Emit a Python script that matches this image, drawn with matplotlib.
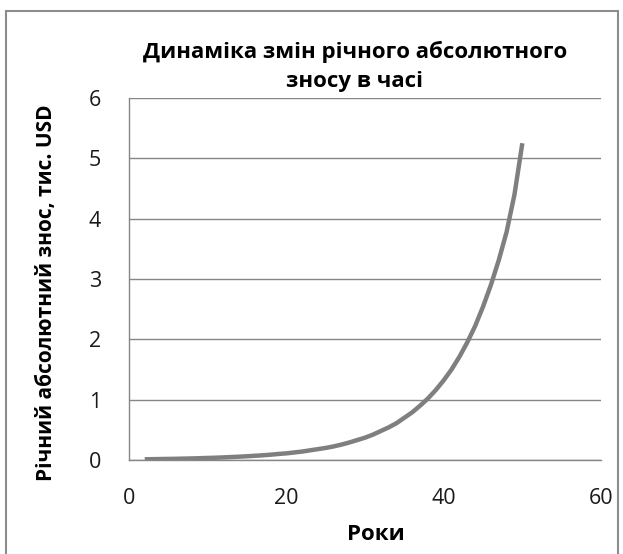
import matplotlib
matplotlib.use("Agg")
import matplotlib.pyplot as plt
from matplotlib.patches import Rectangle

# data
years = list(range(2, 51))
wear = [0.012, 0.014, 0.016, 0.018, 0.020, 0.023, 0.026, 0.030, 0.034,
        0.038, 0.043, 0.049, 0.055, 0.062, 0.070, 0.078, 0.088, 0.100,
        0.110, 0.125, 0.140, 0.160, 0.180, 0.200, 0.225, 0.255, 0.290,
        0.330, 0.370, 0.420, 0.480, 0.540, 0.610, 0.700, 0.790, 0.900,
        1.020, 1.160, 1.320, 1.500, 1.710, 1.950, 2.220, 2.540, 2.900,
        3.310, 3.780, 4.400, 5.250]
x_ticks = [0, 20, 40, 60]
y_ticks = [0, 1, 2, 3, 4, 5, 6]

title = "Динаміка змін річного абсолютного\nзносу в часі"
x_label = "Роки"
y_label = "Річний абсолютний знос, тис. USD"

W, H = 623, 554
fig = plt.figure(figsize=(W / 100, H / 100), dpi=100)
fig.patch.set_facecolor("white")

# outer chart frame
fig.add_artist(Rectangle((6 / W, 1 - 560 / H), (618 - 6) / W, (560 - 11) / H,
                         transform=fig.transFigure, fill=False,
                         edgecolor="#8c8c8c", linewidth=1.5))

ax = fig.add_axes([129 / W, 1 - 460 / H, (601 - 129) / W, (460 - 98) / H])
ax.plot(years, wear, color="#7f7f7f", linewidth=3.2, solid_capstyle="butt")

ax.set_xlim(0, 60)
ax.set_ylim(0, 6)
ax.set_xticks(x_ticks)
ax.set_yticks(y_ticks)
ax.grid(axis="y", color="#868686", linewidth=1)
ax.set_axisbelow(True)
for s in ["top", "right"]:
    ax.spines[s].set_visible(False)
for s in ["left", "bottom"]:
    ax.spines[s].set_color("#868686")
    ax.spines[s].set_linewidth(1)
ax.tick_params(length=0, labelsize=15.5, colors="#1a1a1a")
ax.tick_params(axis="x", pad=20)
ax.tick_params(axis="y", pad=20)
for lab in ax.get_xticklabels() + ax.get_yticklabels():
    lab.set_family("Open Sans")

fig.text(355 / W, 1 - 66 / H, title, ha="center", va="center",
         fontsize=16, fontweight="bold", family="Open Sans",
         linespacing=1.5)
fig.text(376 / W, 1 - 535 / H, x_label, ha="center", va="center",
         fontsize=16, fontweight="bold", family="Open Sans")
fig.text(47 / W, 1 - 293 / H, y_label, rotation=90, ha="center", va="center",
         fontsize=15, fontweight="bold", family="Open Sans")

fig.savefig("out.png", dpi=100)
